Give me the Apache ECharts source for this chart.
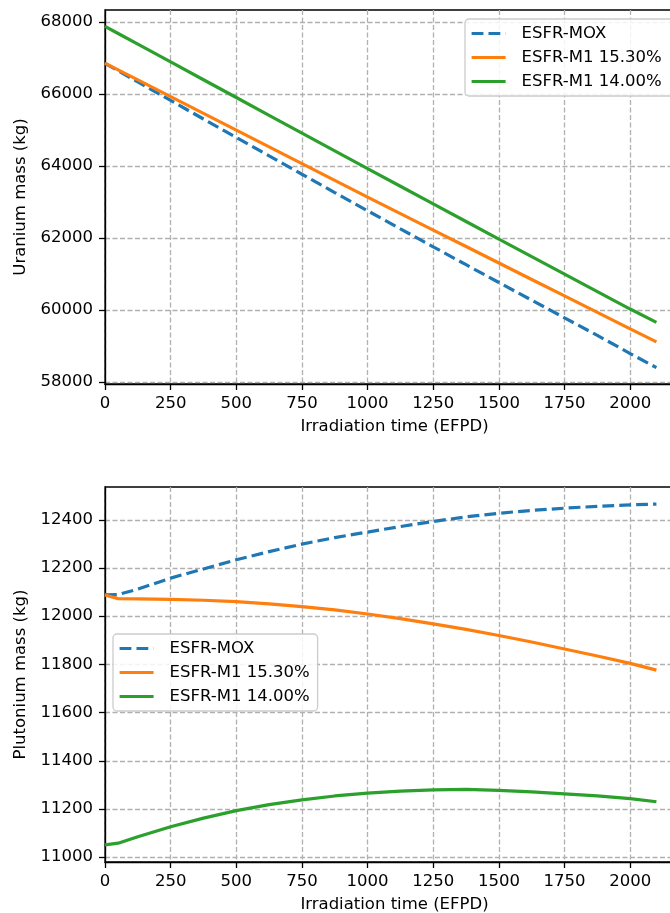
<!DOCTYPE html>
<html>
<head>
<meta charset="utf-8">
<script src="https://cdn.jsdelivr.net/npm/echarts@6/dist/echarts.min.js"></script>
<style>
html,body{margin:0;padding:0;background:#fff;}
#chart{width:670px;height:913px;}
</style>
</head>
<body>
<div id="chart"></div>
<script>
// ---- data ----
const seriesNames = ['ESFR-MOX', 'ESFR-M1 15.30%', 'ESFR-M1 14.00%'];
const days = [0, 50, 125, 250, 375, 500, 625, 750, 875, 1000, 1125, 1250, 1375, 1500, 1625, 1750, 1875, 2000, 2100];

const uraniumMox  = [66850, 66645, 66335, 65820, 65305, 64792, 64280, 63770, 63262, 62756, 62254, 61754, 61258, 60764, 60272, 59782, 59294, 58790, 58400];
const uraniumM153 = [66856, 66670, 66391, 65926, 65461, 64996, 64531, 64066, 63601, 63136, 62676, 62219, 61762, 61305, 60848, 60391, 59934, 59477, 59115];
const uraniumM140 = [67877, 67680, 67384, 66890, 66396, 65902, 65408, 64914, 64421, 63928, 63437, 62947, 62458, 61970, 61484, 60998, 60512, 60026, 59657];

const plutoniumMox  = [12088, 12090, 12112, 12158, 12196, 12234, 12268, 12299, 12326, 12349, 12372, 12393, 12412, 12427, 12439, 12448, 12456, 12462, 12465];
const plutoniumM153 = [12088, 12073, 12072, 12070, 12066, 12060, 12051, 12040, 12026, 12009, 11990, 11968, 11945, 11920, 11893, 11864, 11835, 11804, 11776];
const plutoniumM140 = [11051, 11058, 11085, 11126, 11162, 11193, 11218, 11238, 11254, 11266, 11274, 11279, 11281, 11277, 11271, 11263, 11254, 11243, 11230];

const xTicks = [0, 250, 500, 750, 1000, 1250, 1500, 1750, 2000];
const uTicks = [58000, 60000, 62000, 64000, 66000, 68000];
const puTicks = [11000, 11200, 11400, 11600, 11800, 12000, 12200, 12400];

const xLabel = 'Irradiation time (EFPD)';
const uLabel = 'Uranium mass (kg)';
const puLabel = 'Plutonium mass (kg)';

// ---- styling ----
const FONT = 'DejaVu Sans';
const FS = 16.5;
const LW = 3.2;
const colors = ['#1f77b4', '#ff7f0e', '#2ca02c'];
const lineTypes = [[11.8, 5.1], 'solid', 'solid'];

function pairs(xs, ys) { return xs.map((x, i) => [x, ys[i]]); }
const plain = v => String(v);

function xAxisCfg(gridIndex) {
  return {
    type: 'value', gridIndex: gridIndex, min: 0, max: 2205,
    name: xLabel, nameLocation: 'middle', nameGap: 34,
    nameTextStyle: {fontFamily: FONT, fontSize: FS, color: '#000'},
    axisLine: {show: true, onZero: false, lineStyle: {color: '#000', width: 1.3}},
    axisTick: {show: true, length: 6, lineStyle: {color: '#000', width: 1.3}, customValues: xTicks},
    axisLabel: {fontFamily: FONT, fontSize: FS, color: '#000', margin: 11, customValues: xTicks, formatter: plain},
    splitLine: {show: true, lineStyle: {color: '#b0b0b0', width: 1.3, type: [5, 2.5]}}
  };
}
function yAxisCfg(gridIndex, min, max, ticks, label) {
  return {
    type: 'value', gridIndex: gridIndex, min: min, max: max,
    name: label, nameLocation: 'middle', nameGap: 68, nameRotate: 90,
    nameTextStyle: {fontFamily: FONT, fontSize: FS, color: '#000'},
    axisLine: {show: true, onZero: false, lineStyle: {color: '#000', width: 1.3}},
    axisTick: {show: true, length: 6, lineStyle: {color: '#000', width: 1.3}, customValues: ticks},
    axisLabel: {fontFamily: FONT, fontSize: FS, color: '#000', margin: 12, customValues: ticks, formatter: plain},
    splitLine: {show: true, lineStyle: {color: '#b0b0b0', width: 1.3, type: [5, 2.5]}}
  };
}
function lineSeries(i, xi, yi, data) {
  return {
    type: 'line', name: seriesNames[i], xAxisIndex: xi, yAxisIndex: yi,
    data: pairs(days, data), symbol: 'none', showSymbol: false,
    lineStyle: {color: colors[i], width: LW, type: lineTypes[i]},
    itemStyle: {color: colors[i]},
    emphasis: {disabled: true}, z: 3
  };
}
function legendCfg(left, top, padRight) {
  return {
    show: true, orient: 'vertical', left: left, top: top,
    data: seriesNames.map((n, i) => ({name: n, lineStyle: {width: LW, color: colors[i], type: lineTypes[i]}})),
    itemWidth: 34, itemHeight: 14, itemGap: 7,
    padding: [6, padRight, 6, 5], backgroundColor: 'rgba(255,255,255,0.85)',
    borderColor: '#cccccc', borderWidth: 1.3, borderRadius: 4,
    selectedMode: false,
    itemStyle: {opacity: 0},
    lineStyle: {width: LW},
    textStyle: {fontFamily: FONT, fontSize: FS, color: '#000', padding: [0, 0, 0, 11]}
  };
}

const chart = echarts.init(document.getElementById('chart'), null, {renderer: 'canvas'});
chart.setOption({
  animation: false,
  backgroundColor: '#fff',
  textStyle: {fontFamily: FONT},
  legend: [legendCfg(465, 19, 18), legendCfg(113, 634, 8)],
  grid: [
    {left: 105, top: 10, width: 579, height: 374, show: true, borderColor: '#000', borderWidth: 1.3, containLabel: false, outerBoundsMode: 'none'},
    {left: 105, top: 487, width: 579, height: 375, show: true, borderColor: '#000', borderWidth: 1.3, containLabel: false, outerBoundsMode: 'none'}
  ],
  xAxis: [xAxisCfg(0), xAxisCfg(1)],
  yAxis: [
    yAxisCfg(0, 57944, 68333, uTicks, uLabel),
    yAxisCfg(1, 10980, 12536, puTicks, puLabel)
  ],
  series: [
    lineSeries(0, 0, 0, uraniumMox),
    lineSeries(1, 0, 0, uraniumM153),
    lineSeries(2, 0, 0, uraniumM140),
    lineSeries(0, 1, 1, plutoniumMox),
    lineSeries(1, 1, 1, plutoniumM153),
    lineSeries(2, 1, 1, plutoniumM140)
  ]
});
</script>
</body>
</html>
